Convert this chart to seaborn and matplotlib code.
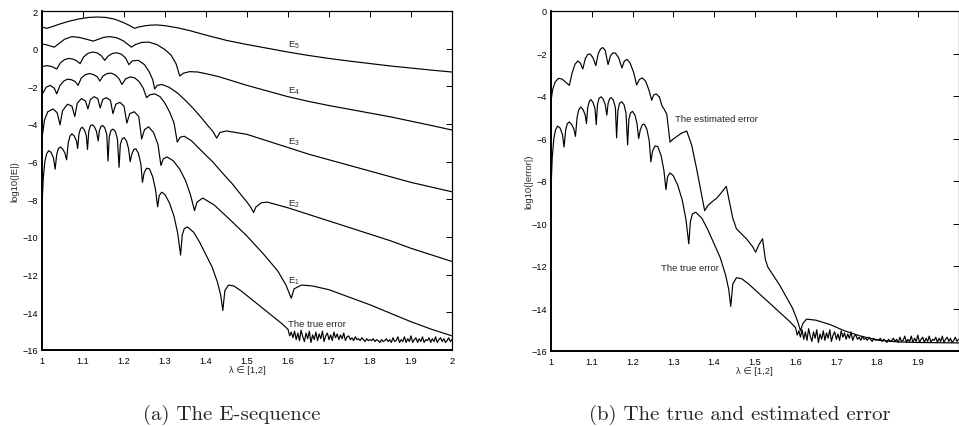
import numpy as np
import pandas as pd
import seaborn as sns
import matplotlib
matplotlib.use("Agg")
import matplotlib.pyplot as plt

# ---------------------------------------------------------------- data
E5_X = [1.000, 1.006, 1.012, 1.025, 1.045, 1.065, 1.090, 1.115, 1.134, 1.155,
        1.175, 1.195, 1.210, 1.220, 1.226, 1.235, 1.250, 1.265, 1.280, 1.300,
        1.330, 1.360, 1.400, 1.450, 1.500, 1.550, 1.600, 1.650, 1.700, 1.750,
        1.800, 1.850, 1.900, 1.950, 2.000]
E5_Y = [1.15, 1.11, 1.08, 1.17, 1.32, 1.45, 1.58, 1.66, 1.68, 1.66,
        1.58, 1.42, 1.27, 1.15, 1.08, 1.15, 1.21, 1.25, 1.26, 1.22,
        1.11, 0.96, 0.72, 0.44, 0.22, 0.02, -0.18, -0.36, -0.52, -0.66,
        -0.79, -0.92, -1.03, -1.14, -1.24]

E4_X = [1.000, 1.012, 1.022, 1.030, 1.040, 1.055, 1.073, 1.090, 1.105, 1.117,
        1.125, 1.135, 1.150, 1.165, 1.182, 1.198, 1.210, 1.218, 1.228, 1.243,
        1.260, 1.280, 1.300, 1.315, 1.327, 1.336, 1.345, 1.360, 1.380, 1.400,
        1.430, 1.460, 1.500, 1.550, 1.600, 1.650, 1.700, 1.750, 1.800, 1.850,
        1.900, 1.950, 2.000]
E4_Y = [0.25, 0.20, 0.13, 0.08, 0.25, 0.50, 0.64, 0.60, 0.52, 0.45,
        0.40, 0.48, 0.60, 0.64, 0.58, 0.42, 0.22, 0.08, 0.22, 0.33,
        0.35, 0.22, -0.05, -0.35, -0.80, -1.45, -1.30, -1.22, -1.24, -1.33,
        -1.48, -1.68, -1.95, -2.25, -2.55, -2.80, -3.02, -3.22, -3.42, -3.62,
        -3.85, -4.08, -4.32]

E3_X = [1.000, 1.012, 1.024, 1.036, 1.045, 1.055, 1.065, 1.075, 1.085, 1.093,
        1.101, 1.112, 1.123, 1.134, 1.145, 1.153, 1.161, 1.172, 1.183, 1.194,
        1.204, 1.212, 1.220, 1.235, 1.250, 1.262, 1.270, 1.275, 1.281, 1.292,
        1.310, 1.330, 1.350, 1.370, 1.390, 1.405, 1.417, 1.426, 1.434, 1.450,
        1.500, 1.550, 1.600, 1.650, 1.700, 1.750, 1.800, 1.850, 1.900, 1.950,
        2.000]
E3_Y = [-0.95, -0.90, -0.95, -1.08, -0.75, -0.58, -0.52, -0.55, -0.65, -0.80,
        -0.45, -0.25, -0.18, -0.22, -0.38, -0.62, -0.40, -0.25, -0.22, -0.30,
        -0.50, -0.85, -0.65, -0.62, -0.85, -1.25, -1.65, -2.14, -1.95, -1.90,
        -2.05, -2.35, -2.75, -3.20, -3.70, -4.10, -4.40, -4.75, -4.45, -4.37,
        -4.55, -4.90, -5.25, -5.60, -5.90, -6.20, -6.50, -6.80, -7.10, -7.35,
        -7.60]

E2_X = [1.000, 1.010, 1.020, 1.030, 1.036, 1.044, 1.053, 1.062, 1.072, 1.081,
        1.088, 1.096, 1.106, 1.116, 1.126, 1.135, 1.141, 1.149, 1.159, 1.169,
        1.179, 1.188, 1.195, 1.204, 1.215, 1.226, 1.237, 1.247, 1.255, 1.263,
        1.275, 1.288, 1.300, 1.312, 1.322, 1.330, 1.337, 1.347, 1.365, 1.390,
        1.416, 1.440, 1.465, 1.485, 1.500, 1.510, 1.516, 1.522, 1.535, 1.550,
        1.600, 1.650, 1.700, 1.750, 1.800, 1.850, 1.900, 1.950, 2.000]
E2_Y = [-2.45, -2.05, -1.95, -2.10, -2.40, -1.95, -1.72, -1.62, -1.65, -1.75,
        -1.95, -1.55, -1.38, -1.32, -1.38, -1.50, -1.72, -1.45, -1.32, -1.30,
        -1.40, -1.60, -1.90, -1.60, -1.50, -1.55, -1.75, -2.10, -2.60, -2.45,
        -2.40, -2.55, -2.90, -3.40, -3.95, -4.96, -4.70, -4.65, -4.90, -5.45,
        -6.00, -6.60, -7.20, -7.75, -8.15, -8.45, -8.70, -8.40, -8.18, -8.15,
        -8.45, -8.80, -9.15, -9.50, -9.85, -10.20, -10.60, -10.95, -11.30]

E1_X = [1.000, 1.006, 1.014, 1.027, 1.037, 1.044, 1.050, 1.062, 1.073, 1.080,
        1.086, 1.096, 1.106, 1.112, 1.118, 1.127, 1.136, 1.142, 1.148, 1.157,
        1.167, 1.173, 1.180, 1.190, 1.200, 1.207, 1.214, 1.225, 1.236, 1.243,
        1.250, 1.260, 1.272, 1.283, 1.290, 1.296, 1.305, 1.320, 1.336, 1.350,
        1.362, 1.372, 1.378, 1.392, 1.420, 1.457, 1.500, 1.540, 1.575, 1.595,
        1.608, 1.615, 1.633, 1.660, 1.700, 1.750, 1.800, 1.850, 1.900, 1.950,
        2.000]
E1_Y = [-4.75, -3.80, -3.35, -3.20, -3.40, -4.05, -3.30, -2.95, -3.05, -3.60,
        -2.90, -2.65, -2.78, -3.20, -2.70, -2.55, -2.65, -3.15, -2.70, -2.60,
        -2.75, -3.45, -2.95, -2.85, -3.05, -3.95, -3.45, -3.35, -3.60, -4.80,
        -4.30, -4.15, -4.45, -5.10, -6.20, -5.85, -5.75, -5.95, -6.40, -7.00,
        -7.75, -8.60, -8.15, -7.93, -8.30, -9.05, -9.95, -10.90, -11.80, -12.55,
        -13.25, -12.75, -12.55, -12.60, -12.80, -13.20, -13.60, -14.05, -14.50, -14.90,
        -15.25]

TRUE_X = [1.000, 1.003, 1.007, 1.011, 1.016, 1.022, 1.028, 1.032,
          1.036, 1.040, 1.045, 1.051, 1.056, 1.060,
          1.064, 1.068, 1.073, 1.079, 1.084, 1.087,
          1.090, 1.094, 1.098, 1.103, 1.108, 1.111,
          1.114, 1.118, 1.123, 1.128, 1.133, 1.137,
          1.140, 1.144, 1.148, 1.153, 1.158, 1.161,
          1.164, 1.168, 1.173, 1.179, 1.184, 1.188,
          1.191, 1.195, 1.200, 1.206, 1.211, 1.215,
          1.219, 1.224, 1.229, 1.235, 1.241, 1.245,
          1.249, 1.255, 1.262, 1.270, 1.277, 1.282,
          1.286, 1.292, 1.300, 1.311, 1.322, 1.331, 1.338,
          1.342, 1.347, 1.355, 1.370, 1.385, 1.400, 1.415, 1.428, 1.436, 1.441,
          1.446, 1.455, 1.468, 1.485, 1.505, 1.525, 1.545, 1.565, 1.585, 1.600]
TRUE_Y = [-8.40, -6.90, -6.00, -5.60, -5.42, -5.50, -5.80, -6.40,
          -5.60, -5.30, -5.22, -5.35, -5.55, -5.90,
          -5.00, -4.65, -4.52, -4.65, -4.90, -5.30,
          -4.55, -4.25, -4.17, -4.30, -4.60, -5.35,
          -4.40, -4.10, -4.04, -4.15, -4.40, -4.90,
          -4.35, -4.12, -4.08, -4.20, -4.55, -5.97,
          -4.70, -4.35, -4.27, -4.40, -4.80, -6.30,
          -5.10, -4.80, -4.72, -4.90, -5.30, -6.00,
          -5.60, -5.35, -5.32, -5.55, -6.10, -7.10,
          -6.60, -6.35, -6.38, -6.80, -7.50, -8.40,
          -7.80, -7.62, -7.75, -8.20, -8.90, -9.80, -10.96,
          -9.90, -9.55, -9.47, -9.75, -10.30, -10.95, -11.60, -12.40, -13.10, -13.90,
          -12.85, -12.55, -12.60, -12.85, -13.20, -13.55, -13.90, -14.25, -14.60, -14.90]

# rounding-noise floor of the true error, sampled every 0.004 on (1.6, 2]
NOISE_Y = [-15.25, -15.05, -15.35, -15.00, -15.45, -15.10, -15.50, -14.95, -15.30, -15.55,
           -15.10, -15.40, -15.00, -15.60, -15.20, -15.45, -15.05, -15.50, -15.15, -15.40,
           -15.00, -15.55, -15.25, -15.10, -15.45, -15.20, -15.50, -15.05, -15.35, -15.15,
           -15.45, -15.20, -15.40, -15.10, -15.50, -15.30, -15.25, -15.45, -15.35, -15.50,
           -15.30, -15.45, -15.40, -15.50, -15.35, -15.45, -15.55, -15.40, -15.50, -15.45,
           -15.50, -15.40, -15.55, -15.45, -15.50, -15.60, -15.45, -15.55, -15.50, -15.40,
           -15.55, -15.45, -15.60, -15.35, -15.55, -15.50, -15.30, -15.60, -15.45, -15.55,
           -15.30, -15.60, -15.40, -15.55, -15.25, -15.60, -15.45, -15.35, -15.60, -15.40,
           -15.55, -15.30, -15.60, -15.45, -15.50, -15.35, -15.60, -15.40, -15.55, -15.30,
           -15.60, -15.45, -15.35, -15.55, -15.40, -15.60, -15.50, -15.35, -15.55, -15.45]
NOISE_X = np.round(np.linspace(1.604, 2.0, len(NOISE_Y)), 3)

EST_X = [1.000, 1.004, 1.010, 1.018, 1.027, 1.036, 1.045,
         1.052, 1.059, 1.066, 1.072, 1.078,
         1.084, 1.090, 1.096, 1.103, 1.110,
         1.116, 1.122, 1.127, 1.133, 1.140,
         1.146, 1.152, 1.158, 1.166, 1.174,
         1.180, 1.187, 1.194, 1.203, 1.210,
         1.217, 1.224, 1.232, 1.240, 1.247,
         1.252, 1.258, 1.266, 1.272, 1.277, 1.284, 1.292,
         1.298, 1.309, 1.320, 1.333, 1.345, 1.357, 1.368, 1.377,
         1.385, 1.397, 1.407, 1.418, 1.430, 1.438, 1.446, 1.455, 1.480, 1.495, 1.502,
         1.510, 1.519, 1.526, 1.532, 1.561, 1.593, 1.605, 1.612,
         1.618, 1.627, 1.650, 1.684, 1.720, 1.760, 1.806, 1.850, 1.900, 2.000]
EST_Y = [-4.25, -3.70, -3.35, -3.17, -3.20, -3.35, -3.50,
         -2.90, -2.50, -2.35, -2.45, -2.73,
         -2.25, -2.05, -2.02, -2.20, -2.57,
         -2.00, -1.78, -1.72, -1.85, -2.52,
         -2.10, -1.97, -1.98, -2.20, -2.68,
         -2.35, -2.28, -2.45, -2.90, -3.48,
         -3.22, -3.15, -3.30, -3.70, -4.20,
         -3.95, -3.90, -4.05, -4.45, -4.60, -4.85, -6.17,
         -6.05, -5.90, -5.75, -5.65, -6.30, -7.40, -8.50, -9.40,
         -9.15, -8.95, -8.80, -8.55, -8.25, -9.00, -9.75, -10.25, -10.73, -11.10, -11.35,
         -11.00, -10.72, -11.70, -12.05, -12.90, -14.00, -14.60, -15.05,
         -14.70, -14.50, -14.55, -14.75, -15.05, -15.30, -15.50, -15.57, -15.60, -15.62]

X_TICKS = [1.0, 1.1, 1.2, 1.3, 1.4, 1.5, 1.6, 1.7, 1.8, 1.9, 2.0]
X_TICK_LABELS = ["1", "1.1", "1.2", "1.3", "1.4", "1.5", "1.6", "1.7", "1.8", "1.9", "2"]
Y_TICKS_A = list(range(-16, 3, 2))
Y_TICKS_B = list(range(-16, 1, 2))

SEQ_LABELS = [("E$_5$", 0.13), ("E$_4$", -2.32), ("E$_3$", -5.06),
              ("E$_2$", -8.34), ("E$_1$", -12.41)]

# ---------------------------------------------------------------- style
sns.set_theme(style="white")
plt.rcParams["font.family"] = ["Liberation Sans", "DejaVu Sans"]
plt.rcParams["mathtext.default"] = "regular"
plt.rcParams["axes.unicode_minus"] = True

W, H = 959, 427
fig = plt.figure(figsize=(W / 100, H / 100), dpi=100)
fig.patch.set_facecolor("white")

ax_a = fig.add_axes([42 / W, 1 - 351 / H, 410 / W, 339 / H])
ax_b = fig.add_axes([551 / W, 1 - 352 / H, 407.6 / W, 340 / H])

LW = 0.85
true_x = list(TRUE_X) + list(NOISE_X)
true_y = list(TRUE_Y) + list(NOISE_Y)


def draw(ax, xs, ys):
    df = pd.DataFrame({"lam": xs, "val": ys})
    sns.lineplot(data=df, x="lam", y="val", ax=ax, color="black", lw=LW,
                 estimator=None, sort=False, legend=False)


for xs, ys in [(E5_X, E5_Y), (E4_X, E4_Y), (E3_X, E3_Y), (E2_X, E2_Y),
               (E1_X, E1_Y), (true_x, true_y)]:
    draw(ax_a, xs, ys)

draw(ax_b, EST_X, EST_Y)
draw(ax_b, true_x, true_y)


def style_axes(ax, yticks, ylim, ylabel, ylab_x, show_last_x=True):
    ax.set_xlim(1, 2)
    ax.set_ylim(*ylim)
    ax.set_xticks(X_TICKS)
    labels = list(X_TICK_LABELS)
    if not show_last_x:
        labels[-1] = ""
    ax.set_xticklabels(labels)
    ax.set_yticks(yticks)
    ax.set_yticklabels([f"{v}".replace("-", "\u2212") for v in yticks])
    ax.tick_params(direction="in", length=4, width=0.7, top=True, right=True,
                   labelsize=6.6, pad=3, colors="black")
    ax.tick_params(axis="x", pad=4)
    for side, sp in ax.spines.items():
        sp.set_visible(True)
        sp.set_color("black")
        sp.set_linewidth(1.4 if side in ("left", "bottom") else 0.9)
    ax.set_facecolor("white")
    ax.grid(False)
    ax.set_xlabel("\u03bb \u2208 [1,2]", fontsize=6.8)
    ax.xaxis.set_label_coords(0.5, -0.045)
    ax.set_ylabel(ylabel, fontsize=6.8)
    ax.yaxis.set_label_coords(ylab_x, 0.5)


style_axes(ax_a, Y_TICKS_A, (-16, 2), "log10(|E|)", -0.054)
style_axes(ax_b, Y_TICKS_B, (-16, 0), "log10(|error|)", -0.044, show_last_x=False)

for txt, yv in SEQ_LABELS:
    ax_a.text(1.601, yv, txt, fontsize=6.8, ha="left", va="baseline")
ax_a.text(1.601, -14.73, "The true error", fontsize=6.8, ha="left", va="baseline")

ax_b.text(1.304, -5.16, "The estimated error", fontsize=6.8, ha="left", va="baseline")
ax_b.text(1.271, -12.17, "The true error", fontsize=6.8, ha="left", va="baseline")

fig.text(232 / W, 1 - 415 / H, "(a) The E-sequence", family="cmr10",
         fontsize=15, ha="center", va="center")
fig.text(740 / W, 1 - 415 / H, "(b) The true and estimated error", family="cmr10",
         fontsize=15, ha="center", va="center")

fig.savefig("out.png", dpi=100, facecolor="white")
